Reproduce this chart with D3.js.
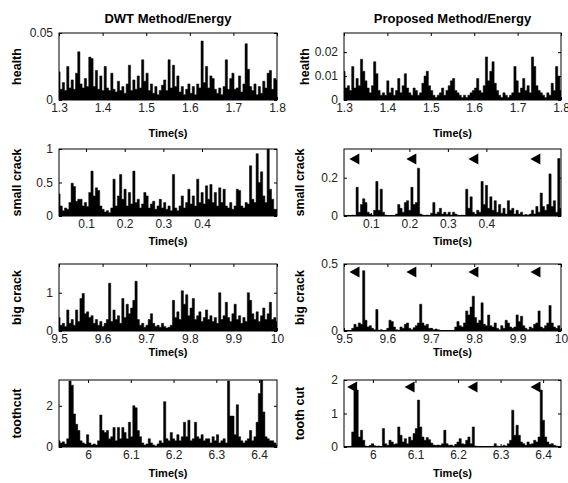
<!DOCTYPE html>
<html><head><meta charset="utf-8">
<script src="https://cdn.jsdelivr.net/npm/d3@7"></script>
<style>
body{margin:0;background:#fff}
text{font-family:"Liberation Sans",Arial,Helvetica,sans-serif}
</style>
</head><body>
<svg id="c" width="568" height="483"></svg>
<script>
// ---------- data ----------
const columnTitles = ["DWT Method/Energy", "Proposed Method/Energy"];
const rowLabelsDWT = ["health", "small crack", "big crack", "toothcut"];
const rowLabelsProp = ["health", "small crack", "big crack", "tooth cut"];
const xLabel = "Time(s)";
const xDomains = [[1.3, 1.8], [0.03, 0.594], [9.5, 10], [5.932, 6.442]];
const xTickValues = [[1.3, 1.4, 1.5, 1.6, 1.7, 1.8], [0.1, 0.2, 0.3, 0.4], [9.5, 9.6, 9.7, 9.8, 9.9, 10], [6, 6.1, 6.2, 6.3, 6.4]];
const yMaxDWT = [0.05, 1, 1.75, 3.25];
const yMaxProp = [0.028, 0.35, 0.5, 2];
const yTicksDWT = [[0, 0.05], [0, 0.5, 1], [0, 1], [0, 2]];
const yTicksProp = [[0, 0.01, 0.02], [0, 0.2], [0, 0.5], [0, 1, 2]];

const healthDWT = [0.021,0.008,0.013,0.007,0.025,0.009,0.015,0.008,0.020,0.036,
 0.012,0.009,0.016,0.010,0.032,0.031,0.010,0.022,0.008,0.018,
 0.007,0.025,0.009,0.007,0.020,0.008,0.006,0.014,0.007,0.010,
 0.005,0.012,0.026,0.007,0.015,0.008,0.018,0.009,0.030,0.014,
 0.020,0.007,0.012,0.005,0.010,0.004,0.007,0.011,0.015,0.007,
 0.030,0.009,0.026,0.010,0.018,0.006,0.010,0.004,0.008,0.012,
 0.005,0.010,0.004,0.012,0.009,0.044,0.013,0.025,0.009,0.018,
 0.016,0.008,0.005,0.009,0.004,0.010,0.030,0.008,0.016,0.020,
 0.008,0.009,0.018,0.006,0.012,0.042,0.023,0.010,0.007,0.012,
 0.004,0.010,0.005,0.014,0.009,0.020,0.022,0.008,0.016,0.015];
const healthProp = [0.012,0.005,0.006,0.004,0.014,0.005,0.009,0.006,0.017,0.012,
 0.008,0.005,0.003,0.006,0.016,0.011,0.004,0.002,0.003,0.002,
 0.008,0.003,0.005,0.002,0.004,0.009,0.003,0.006,0.011,0.005,
 0.003,0.002,0.005,0.004,0.002,0.003,0.007,0.010,0.012,0.006,
 0.004,0.002,0.001,0.002,0.003,0.005,0.002,0.004,0.006,0.008,
 0.009,0.004,0.003,0.002,0.001,0.002,0.001,0.002,0.003,0.004,
 0.005,0.009,0.004,0.003,0.006,0.018,0.008,0.012,0.016,0.007,
 0.004,0.002,0.001,0.003,0.002,0.001,0.002,0.003,0.014,0.008,
 0.003,0.005,0.009,0.004,0.006,0.003,0.018,0.014,0.006,0.004,
 0.003,0.002,0.001,0.003,0.002,0.007,0.004,0.014,0.010,0.004];
const smallCrackDWT = [0.33,0.15,0.08,0.12,0.10,0.20,0.49,0.44,0.22,0.25,
 0.25,0.15,0.20,0.14,0.35,0.67,0.30,0.42,0.38,0.15,
 0.10,0.06,0.08,0.05,0.12,0.55,0.15,0.30,0.62,0.25,
 0.40,0.15,0.35,0.18,0.67,0.20,0.25,0.12,0.18,0.35,
 0.30,0.12,0.18,0.22,0.10,0.15,0.25,0.12,0.20,0.10,
 0.15,0.08,0.62,0.12,0.08,0.15,0.30,0.12,0.20,0.40,
 0.18,0.30,0.15,0.55,0.20,0.35,0.18,0.45,0.25,0.47,
 0.20,0.35,0.15,0.42,0.20,0.40,0.15,0.12,0.20,0.10,
 0.15,0.40,0.38,0.15,0.12,0.20,0.18,0.75,0.25,0.20,
 0.93,0.50,0.66,0.30,0.20,1.00,0.40,0.25,0.10,0.10];
const smallCrackProp = [0.005,0.003,0.004,0.002,0.005,0.003,0.150,0.020,0.060,0.090,
 0.070,0.020,0.010,0.005,0.030,0.180,0.030,0.140,0.020,0.005,
 0.003,0.002,0.003,0.002,0.010,0.060,0.040,0.020,0.070,0.080,
 0.030,0.150,0.060,0.070,0.250,0.010,0.005,0.003,0.005,0.003,
 0.015,0.070,0.010,0.020,0.040,0.010,0.020,0.008,0.020,0.005,
 0.020,0.010,0.005,0.003,0.005,0.003,0.140,0.040,0.100,0.020,
 0.010,0.030,0.020,0.180,0.060,0.160,0.040,0.100,0.030,0.080,
 0.020,0.060,0.015,0.040,0.010,0.080,0.030,0.040,0.010,0.030,
 0.010,0.020,0.005,0.008,0.005,0.010,0.030,0.010,0.050,0.020,
 0.120,0.050,0.030,0.060,0.220,0.050,0.080,0.020,0.300,0.040];
const bigCrackDWT = [0.35,0.15,0.20,0.12,0.55,0.20,0.30,0.15,0.55,0.25,
 0.85,0.98,0.45,0.50,0.35,0.40,0.20,0.30,0.15,0.25,
 0.12,0.20,0.30,1.25,0.25,0.55,0.30,0.40,0.20,0.85,
 0.35,0.70,0.45,0.60,0.80,1.30,0.30,0.15,0.20,0.10,
 0.15,0.30,0.45,0.20,0.12,0.15,0.10,0.20,0.12,0.08,
 0.10,0.15,0.80,0.35,0.50,0.30,1.05,0.70,0.95,0.40,
 0.60,0.85,0.30,0.40,0.50,0.25,0.35,0.55,0.30,0.40,
 0.25,0.35,0.20,1.00,0.30,0.40,0.75,0.35,0.25,0.45,
 0.70,0.30,0.40,0.20,0.35,0.25,1.00,0.80,0.45,0.30,
 0.50,0.25,0.40,0.60,0.30,0.45,0.75,0.30,0.35,0.25];
const bigCrackProp = [0.003,0.002,0.005,0.003,0.020,0.050,0.030,0.060,0.050,0.450,
 0.080,0.030,0.040,0.020,0.010,0.160,0.005,0.010,0.003,0.005,
 0.020,0.080,0.070,0.030,0.010,0.005,0.030,0.020,0.050,0.060,
 0.020,0.010,0.025,0.040,0.060,0.200,0.060,0.040,0.050,0.020,
 0.020,0.010,0.015,0.010,0.005,0.003,0.002,0.003,0.002,0.003,
 0.005,0.030,0.070,0.040,0.030,0.060,0.150,0.120,0.180,0.260,
 0.100,0.060,0.080,0.210,0.050,0.040,0.120,0.040,0.030,0.060,
 0.020,0.010,0.040,0.020,0.080,0.060,0.030,0.020,0.030,0.120,
 0.070,0.110,0.040,0.020,0.010,0.030,0.020,0.050,0.060,0.150,
 0.030,0.020,0.040,0.060,0.190,0.060,0.030,0.020,0.040,0.010];
const toothcutDWT = [0.30,0.20,0.25,0.15,0.40,3.20,3.00,1.60,1.10,0.80,
 0.30,0.20,0.15,0.60,0.20,0.10,0.15,0.10,0.30,1.55,
 0.80,0.70,0.80,0.40,0.50,0.95,0.30,0.95,0.40,0.95,
 0.70,0.40,1.20,0.50,2.00,1.90,0.80,0.50,0.20,0.10,
 0.15,0.40,0.20,0.10,0.05,0.15,0.30,0.20,2.20,0.40,
 0.30,0.70,0.40,0.30,0.60,0.30,0.50,1.20,0.50,1.30,
 0.30,0.40,1.20,0.50,0.40,0.60,0.30,0.40,0.40,0.20,
 0.50,0.30,0.60,0.20,0.30,0.40,0.20,3.20,1.50,1.50,
 0.60,2.05,0.50,0.30,0.20,0.30,0.40,0.80,0.30,0.50,
 1.20,2.60,3.30,1.70,0.50,0.40,0.30,0.30,0.20,0.10];
const toothcutProp = [0.00,0.01,0.00,0.02,0.45,1.75,1.70,0.30,0.50,0.20,
 0.03,0.01,0.05,0.10,0.04,0.02,0.03,0.01,0.55,0.10,
 0.05,0.20,0.15,0.08,0.10,0.60,0.35,0.15,0.25,0.10,
 0.30,0.20,0.40,0.55,1.40,0.60,0.30,0.20,0.28,0.22,
 0.12,0.06,0.05,0.06,0.05,0.10,0.50,0.10,0.05,0.06,
 0.03,0.08,0.15,0.25,0.10,0.08,0.20,0.30,0.10,0.60,
 0.03,0.01,0.02,0.01,0.01,0.00,0.01,0.00,0.02,0.10,
 0.03,0.02,0.01,0.05,0.03,0.10,0.20,1.10,0.35,0.65,
 0.35,0.15,0.10,0.05,0.15,0.08,0.10,0.20,0.15,0.30,
 1.70,0.80,0.30,0.15,0.08,0.10,0.05,0.03,0.02,0.01];

// fault-impact markers (time, level) on the proposed-method rows 2-4
const markerTimes = [null, [0.0612, 0.2093, 0.3705, 0.5316], [9.528, 9.659, 9.802, 9.945], [5.955, 6.090, 6.238, 6.386]];
const markerLevels = [null, 0.298, 0.44, 1.79];

const seriesDWT = [healthDWT, smallCrackDWT, bigCrackDWT, toothcutDWT];
const seriesProp = [healthProp, smallCrackProp, bigCrackProp, toothcutProp];

// ---------- layout ----------
const colX = [[59, 277], [344, 561]];
const rowTop = [33, 149, 264, 380];
const boxH = 67;
const xLabelBaseline = [137, 245, 356, 477];
const yLabelX = [[21, 21, 21, 21], [309, 304, 304, 304]];

const svg = d3.select("#c");
const fmt = d => String(d);

columnTitles.forEach((t, c) => {
  svg.append("text").attr("x", (colX[c][0] + colX[c][1]) / 2).attr("y", 23)
    .attr("text-anchor", "middle").attr("font-weight", "bold").attr("font-size", 13)
    .attr("fill", "#000").text(t);
});

let clipId = 0;
for (let r = 0; r < 4; r++) {
  for (let c = 0; c < 2; c++) {
    const data = c === 0 ? seriesDWT[r] : seriesProp[r];
    const yMax = c === 0 ? yMaxDWT[r] : yMaxProp[r];
    const yTicks = c === 0 ? yTicksDWT[r] : yTicksProp[r];
    const [x0, x1] = colX[c];
    const y0 = rowTop[r], y1 = rowTop[r] + boxH;
    const dom = xDomains[r];
    const x = d3.scaleLinear().domain(dom).range([x0, x1]);
    const y = d3.scaleLinear().domain([0, yMax]).range([y1, y0]);
    const idx = d3.scaleLinear().domain([0, data.length - 1]).range(dom);
    const g = svg.append("g");

    const cid = "clip" + (clipId++);
    g.append("clipPath").attr("id", cid).append("rect")
      .attr("x", x0).attr("y", y0).attr("width", x1 - x0).attr("height", boxH);
    const plot = g.append("g").attr("clip-path", `url(#${cid})`);

    const area = d3.area().curve(d3.curveStep)
      .x((d, i) => x(idx(i))).y0(y(0)).y1(d => y(d));
    plot.append("path").datum(data).attr("d", area)
      .attr("fill", "#000").attr("stroke", "#000").attr("stroke-width", 0.5);
    plot.append("line").attr("x1", x0).attr("x2", x1).attr("y1", y(0) - 0.5).attr("y2", y(0) - 0.5)
      .attr("stroke", "#000").attr("stroke-width", 1.2);

    if (c === 1 && markerTimes[r]) {
      const tri = d3.symbol().type(d3.symbolTriangle).size(52);
      g.selectAll("path.mk").data(markerTimes[r]).join("path").attr("class", "mk")
        .attr("d", tri)
        .attr("transform", d => `translate(${x(d)},${y(markerLevels[r])}) rotate(-90) scale(1,1.05)`)
        .attr("fill", "#000");
    }

    // box
    g.append("rect").attr("x", x0).attr("y", y0).attr("width", x1 - x0).attr("height", boxH)
      .attr("fill", "none").attr("stroke", "#000").attr("stroke-width", 1);

    // axes (ticks inward, mirrored)
    const styleAxis = sel => {
      sel.select(".domain").remove();
      sel.selectAll(".tick line").attr("stroke", "#000");
      sel.selectAll(".tick text").attr("fill", "#222").attr("font-size", 12)
        .attr("font-family", '"Liberation Sans",Arial,sans-serif');
    };
    g.append("g").attr("transform", `translate(0,${y1})`)
      .call(d3.axisBottom(x).tickValues(xTickValues[r]).tickSize(-3).tickPadding(3).tickFormat(fmt))
      .call(styleAxis);
    g.append("g").attr("transform", `translate(0,${y0})`)
      .call(d3.axisTop(x).tickValues(xTickValues[r]).tickSize(-3).tickFormat(""))
      .call(styleAxis);
    g.append("g").attr("transform", `translate(${x0},0)`)
      .call(d3.axisLeft(y).tickValues(yTicks).tickSize(-3).tickPadding(6).tickFormat(fmt))
      .call(styleAxis);
    g.append("g").attr("transform", `translate(${x1},0)`)
      .call(d3.axisRight(y).tickValues(yTicks).tickSize(-3).tickFormat(""))
      .call(styleAxis);

    // x label
    g.append("text").attr("x", (x0 + x1) / 2).attr("y", xLabelBaseline[r])
      .attr("text-anchor", "middle").attr("font-weight", "bold").attr("font-size", 11)
      .attr("fill", "#000").text(xLabel);
    // y label
    const lbl = c === 0 ? rowLabelsDWT[r] : rowLabelsProp[r];
    g.append("text")
      .attr("transform", `translate(${yLabelX[c][r]},${(y0 + y1) / 2}) rotate(-90)`)
      .attr("text-anchor", "middle").attr("font-weight", "bold").attr("font-size", 12.5)
      .attr("fill", "#000").text(lbl);
  }
}
</script>
</body></html>
